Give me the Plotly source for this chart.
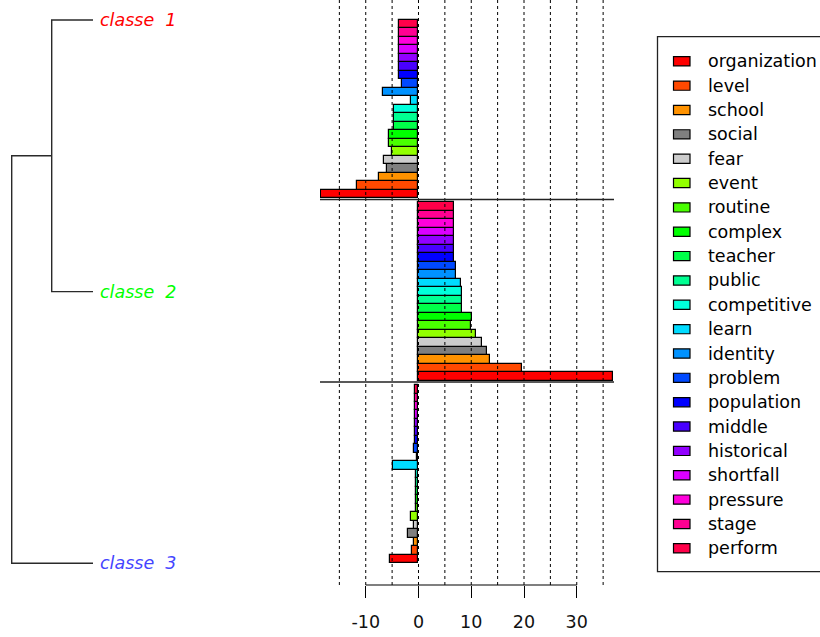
import plotly.graph_objects as go

# Vocabulary, colours and per-class scores
WORDS = ["organization", "level", "school", "social", "fear", "event", "routine",
         "complex", "teacher", "public", "competitive", "learn", "identity", "problem",
         "population", "middle", "historical", "shortfall", "pressure", "stage", "perform"]
COLORS = ["#FF0000", "#FF4900", "#FF9200", "#7F7F7F", "#CCCCCC", "#92FF00", "#49FF00",
          "#00FF00", "#00FF49", "#00FF92", "#00FFDB", "#00DBFF", "#0092FF", "#0049FF",
          "#0000FF", "#4900FF", "#9200FF", "#DB00FF", "#FF00DB", "#FF0092", "#FF0049"]

CLASSE_1 = [-18.5, -11.7, -7.55, -6.03, -6.54, -4.97, -5.59, -5.59, -4.64, -4.64, -4.64,
            -1.48, -6.67, -3.07, -3.7, -3.7, -3.7, -3.7, -3.7, -3.7, -3.7]
CLASSE_2 = [36.9, 19.6, 13.5, 12.93, 11.98, 10.96, 9.95, 10.1, 8.3, 8.3, 8.3,
            8.06, 7.1, 7.1, 6.79, 6.67, 6.67, 6.67, 6.67, 6.67, 6.79]
CLASSE_3 = [-5.4, -1.18, -0.91, -1.93, -0.91, -1.48, -0.53, -0.53, -0.53, -0.53, -0.53,
            -4.78, -0.3, -0.91, -0.66, -0.66, -0.66, -0.66, -0.66, -0.66, -0.66]

CLASS_NAMES = ["classe\u00a0\u00a01", "classe\u00a0\u00a02", "classe\u00a0\u00a03"]
CLASS_COLORS = ["#FF0000", "#00FF00", "#4444FF"]

# Dendrogram merge heights: (1,2) first, then root
MERGE_12 = 0.508
MERGE_ROOT = 1.0

TICKS = [-10, 0, 10, 20, 30]
TICK_TEXT = ["-10", "0", "10", "20", "30"]
GRID = [-15, -10, -5, 0, 5, 10, 15, 20, 25, 30, 35]

W, H = 820, 637
FONT = "DejaVu Sans"
FS = 17.5

n = len(WORDS)
GAP = 0.5
bases = [2 * (n + GAP), n + GAP, 0.0]          # classe 1 on top, classe 3 at bottom
series = [CLASSE_1, CLASSE_2, CLASSE_3]
top = 3 * n + 2 * GAP

fig = go.Figure()

for base, vals in zip(bases, series):
    fig.add_trace(go.Bar(
        x=vals, y=[base + i + 0.5 for i in range(n)], orientation="h", width=1.0,
        marker=dict(color=COLORS, line=dict(color="black", width=1.2)),
        showlegend=False, hoverinfo="skip"))

# Dendrogram drawn on its own x axis, sharing the bar y axis
leaf_y = [top, top / 2, 0.0]
join_y = (leaf_y[0] + leaf_y[1]) / 2
dx = [0, MERGE_12, MERGE_12, 0, None, MERGE_12, MERGE_ROOT, MERGE_ROOT, 0]
dy = [leaf_y[0], leaf_y[0], leaf_y[1], leaf_y[1], None, join_y, join_y, leaf_y[2], leaf_y[2]]
fig.add_trace(go.Scatter(x=dx, y=dy, xaxis="x2", yaxis="y", mode="lines",
                         line=dict(color="#2a2a2a", width=1.4), showlegend=False,
                         hoverinfo="skip"))

annotations = []
for name, col, ly in zip(CLASS_NAMES, CLASS_COLORS, leaf_y):
    annotations.append(dict(x=0, y=ly, xref="x2", yref="y", text=name, showarrow=False,
                            xanchor="left", yanchor="middle", xshift=5,
                            font=dict(family=FONT, size=FS, color=col, style="italic")))

ybot_px = 585
y_lo = -(ybot_px - 563.3) / 8.49
y_hi = 563.3 / 8.49

shapes = []
# dotted reference lines over the bars
for gx in GRID:
    shapes.append(dict(type="line", xref="x", yref="y domain", x0=gx, x1=gx, y0=0, y1=1,
                       line=dict(color="black", width=1, dash="dot"), layer="above"))
# separators between the class blocks
for b in bases[:2]:
    shapes.append(dict(type="line", xref="x domain", yref="y", x0=0, x1=1, y0=b - 0.15,
                       y1=b - 0.15, line=dict(color="#222222", width=1.5), layer="above"))
# axis line spanning the labelled ticks
shapes.append(dict(type="line", xref="x", yref="paper", x0=TICKS[0], x1=TICKS[-1],
                   y0=(H - ybot_px) / H, y1=(H - ybot_px) / H,
                   line=dict(color="black", width=1.2)))

# legend box
lx0, ly0, ly1 = 657.5, 36.7, 571.7
shapes.append(dict(type="rect", xref="paper", yref="paper", x0=lx0 / W, x1=1.02,
                   y0=1 - ly1 / H, y1=1 - ly0 / H, line=dict(color="#222222", width=1.3)))
for i, (word, col) in enumerate(zip(WORDS, COLORS)):
    cy = 61.3 + 24.35 * i
    shapes.append(dict(type="rect", xref="paper", yref="paper", x0=673.5 / W, x1=690 / W,
                       y0=1 - (cy + 4.6) / H, y1=1 - (cy - 4.6) / H,
                       fillcolor=col, line=dict(color="black", width=1.2)))
    annotations.append(dict(x=706 / W, y=1 - cy / H, xref="paper", yref="paper", text=word,
                            showarrow=False, xanchor="left", yanchor="middle",
                            font=dict(family=FONT, size=FS, color="black")))

fig.update_layout(
    width=W, height=H, margin=dict(l=0, r=0, t=0, b=0),
    paper_bgcolor="white", plot_bgcolor="white",
    bargap=0,
    xaxis=dict(domain=[320 / W, 614 / W], range=[-18.67, 37.06], tickvals=TICKS,
               ticktext=TICK_TEXT,
               ticks="outside", ticklen=12, tickwidth=1.2, tickcolor="black",
               showgrid=False, zeroline=False, showline=False, ticklabelstandoff=9,
               tickfont=dict(family=FONT, size=FS, color="#111111"), anchor="y"),
    yaxis=dict(domain=[(H - ybot_px) / H, 1], range=[y_lo, y_hi], visible=False,
               showgrid=False, zeroline=False),
    xaxis2=dict(domain=[0, 93 / W], range=[93 / 81.3, 0], visible=False, anchor="y",
                showgrid=False, zeroline=False),
    shapes=shapes, annotations=annotations,
)

fig.write_html("out.html")
